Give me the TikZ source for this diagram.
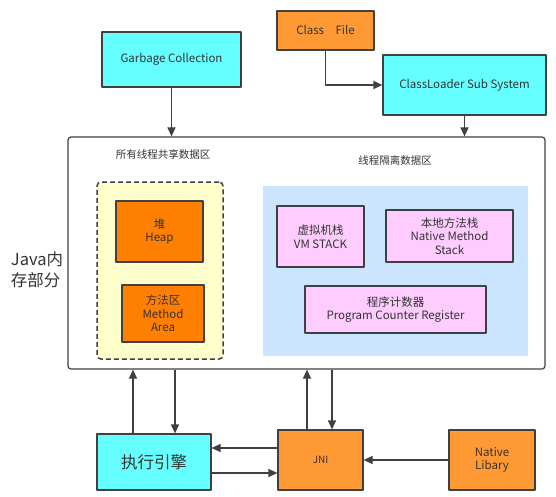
\documentclass[tikz,border=0pt]{standalone}
\usepackage{fontspec}
\setmainfont{Noto Sans CJK SC}
\usetikzlibrary{arrows.meta}
\definecolor{cyanbox}{HTML}{66FFFF}
\definecolor{orangebox}{HTML}{FF9933}
\definecolor{heapbox}{HTML}{FF8000}
\definecolor{pinkbox}{HTML}{FFCCFF}
\definecolor{yellowarea}{HTML}{FFFFCC}
\definecolor{bluearea}{HTML}{CCE5FF}
\definecolor{edge}{HTML}{404040}
\definecolor{txt}{HTML}{333333}
\begin{document}
\begin{tikzpicture}[x=1pt,y=-1pt,line join=round,>={Triangle[length=9pt,width=8pt]},font=\fontsize{11.5}{13.5}\selectfont,
	box/.style={draw=edge,line width=1.2pt,text=txt,align=center,inner sep=0pt},
	arr/.style={->,draw=edge,line width=1.2pt}]
	\useasboundingbox (0,0) rectangle (556,497);
	% boxes on top
	\node[box,fill=cyanbox,minimum width=139pt,minimum height=55pt] (gc) at (171.5,59.5) {Garbage Collection};
	\node[box,fill=orangebox,minimum width=97pt,minimum height=39pt] (cf) at (325.5,30.5) {Class\quad File};
	\node[box,fill=cyanbox,minimum width=163pt,minimum height=60pt] (loader) at (464.5,85) {ClassLoader Sub System};
	% memory
	\node[draw=edge,line width=1.2pt,rounded corners=3pt,minimum width=477pt,minimum height=232pt] (mem) at (306.5,253) {};
	\node[text=txt,font=\fontsize{16.5}{21}\selectfont,align=left] (java) at (37,270) {Java内\\存部分};
	\node[text=txt,font=\fontsize{10.5}{12}\selectfont] (shared) at (163,154) {所有线程共享数据区};
	\node[text=txt,font=\fontsize{10.5}{12}\selectfont] (private) at (395,160) {线程隔离数据区};
	\node[draw=edge,dashed,dash pattern=on 5pt off 3pt,line width=1.5pt,fill=yellowarea,rounded corners=4pt,minimum width=126pt,minimum height=177pt] (sharea) at (160,270.5) {};
	\node[fill=bluearea,minimum width=265pt,minimum height=170pt] (priarea) at (395.5,271) {};
	\node[box,fill=heapbox,minimum width=87pt,minimum height=61pt] (heap) at (159.5,231.5) {堆\\Heap};
	\node[box,fill=heapbox,minimum width=82pt,minimum height=57pt] (method) at (163,313.5) {方法区\\Method\\Area};
	\node[box,fill=pinkbox,minimum width=87pt,minimum height=61pt] (vm) at (320.5,236.5) {虚拟机栈\\VM STACK};
	\node[box,fill=pinkbox,minimum width=127pt,minimum height=52pt] (nms) at (449.5,236) {本地方法栈\\Native Method\\Stack};
	\node[box,fill=pinkbox,minimum width=181pt,minimum height=47pt] (pc) at (395.5,309.5) {程序计数器\\Program Counter Register};
	% bottom row
	\node[box,fill=cyanbox,minimum width=114pt,minimum height=56pt,font=\fontsize{16.5}{21}\selectfont] (engine) at (154,462) {执行引擎};
	\node[box,fill=orangebox,minimum width=85pt,minimum height=60pt,font=\fontsize{10}{12}\selectfont] (jni) at (320.5,460) {JNI};
	\node[box,fill=orangebox,minimum width=86pt,minimum height=60pt] (natlib) at (492,460) {Native\\Libary};
	% arrows
	\draw[arr] (gc.south) -- (gc.south |- mem.north);
	\draw[arr] (cf.south) |- (loader.west);
	\draw[arr] (loader.south) -- (loader.south |- mem.north);
	\draw[arr] ([xshift=-21pt]engine.north) -- ([xshift=-21pt]engine.north |- mem.south);
	\draw[arr] ([xshift=21pt]engine.north |- mem.south) -- ([xshift=21pt]engine.north);
	\draw[arr] ([xshift=-13.5pt]jni.north) -- ([xshift=-13.5pt]jni.north |- mem.south);
	\draw[arr] ([xshift=11.5pt]jni.north |- mem.south) -- ([xshift=11.5pt]jni.north);
	\draw[arr] ([yshift=12pt]jni.west) -- ([yshift=12pt]jni.west -| engine.east);
	\draw[arr] ([yshift=-13pt]jni.west -| engine.east) -- ([yshift=-13pt]jni.west);
	\draw[arr] (natlib.west) -- (jni.east);
\end{tikzpicture}
\end{document}
